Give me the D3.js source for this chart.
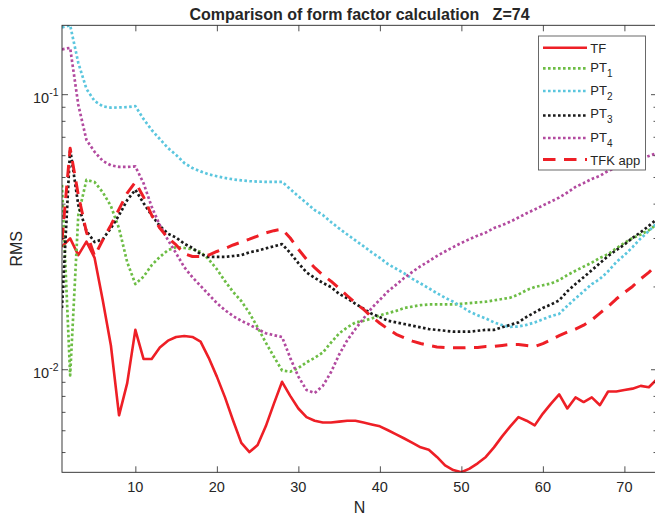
<!DOCTYPE html>
<html>
<head>
<meta charset="utf-8">
<script src="https://cdn.jsdelivr.net/npm/d3@7"></script>
<style>
  body { margin: 0; background: #fff; }
  text { font-family: "Liberation Sans", Arial, Helvetica, sans-serif; fill: #262626; }
</style>
</head>
<body>
<svg id="chart" width="655" height="518"></svg>
<script>
// Number of terms N
const N = d3.range(1, 75);

// RMS error of each form-factor approximation, Z = 74
const TF = [0.0279,0.0299,0.0260,0.0291,0.0254,0.0178,0.0122,0.0068,0.0089,0.0139,
  0.0109,0.0109,0.0120,0.0127,0.0131,0.0132,0.0131,0.0126,0.0110,0.0094,
  0.0079,0.0065,0.0054,0.0050,0.0053,0.0062,0.0075,0.0090,0.0080,0.0072,
  0.0067,0.0065,0.0064,0.0064,0.00645,0.0065,0.0065,0.0064,0.0063,0.0062,
  0.0060,0.0058,0.0056,0.0054,0.0052,0.0051,0.0048,0.00447,0.0043,0.00422,
  0.00435,0.00455,0.0048,0.0052,0.0057,0.0062,0.0067,0.0065,0.00625,0.0069,
  0.0075,0.0081,0.0072,0.0079,0.0076,0.0079,0.0074,0.0083,0.0083,0.0084,
  0.0085,0.0087,0.0086,0.0092];

const PT1 = [0.0468,0.0095,0.0363,0.0488,0.0479,0.0440,0.0392,0.0325,0.0245,0.0204,
  0.0217,0.0239,0.0256,0.0271,0.0278,0.0276,0.0273,0.0267,0.0251,0.0231,
  0.0209,0.0191,0.0177,0.0160,0.0142,0.0125,0.0111,0.0099,0.0098,0.0101,
  0.0106,0.0110,0.0115,0.0125,0.0135,0.0142,0.0148,0.0150,0.0153,0.0157,
  0.0160,0.0163,0.0167,0.0169,0.0171,0.0172,0.0172,0.0172,0.0172,0.0173,
  0.0174,0.0175,0.0176,0.0178,0.0180,0.0182,0.0187,0.0194,0.0199,0.0202,
  0.0205,0.0211,0.0220,0.0228,0.0236,0.0244,0.0254,0.0262,0.0275,0.0288,
  0.0300,0.0309,0.0320,0.0337];

const PT2 = [0.175,0.178,0.130,0.1045,0.0944,0.0903,0.0893,0.0895,0.0897,0.0905,
  0.0813,0.0741,0.0687,0.0637,0.0601,0.0562,0.0539,0.0524,0.0511,0.0503,
  0.0496,0.0490,0.0486,0.0483,0.0481,0.0480,0.0480,0.0480,0.0452,0.0425,
  0.0402,0.0379,0.0364,0.0343,0.0325,0.0309,0.0294,0.0280,0.0266,0.0254,
  0.0241,0.0232,0.0223,0.0213,0.0205,0.0197,0.0189,0.0182,0.0176,0.0169,
  0.0162,0.0157,0.0153,0.0148,0.01446,0.01426,0.0143,0.0145,0.0148,0.0152,
  0.0156,0.0159,0.0170,0.0181,0.0192,0.0204,0.0213,0.0227,0.0245,0.0260,
  0.0278,0.0299,0.0318,0.0340];

const PT3 = [0.0167,0.0632,0.0395,0.0318,0.0290,0.0297,0.0326,0.0363,0.0412,0.0449,
  0.0402,0.0363,0.0332,0.0311,0.0301,0.0286,0.0276,0.0262,0.0256,0.0256,
  0.0256,0.0258,0.0260,0.0266,0.0270,0.0275,0.0280,0.0285,0.0265,0.0243,
  0.0225,0.0215,0.0206,0.0199,0.0188,0.0181,0.0173,0.0166,0.0159,0.01547,
  0.0150,0.0148,0.0146,0.0144,0.0142,0.0140,0.0139,0.0138,0.0137,0.0137,
  0.0137,0.0138,0.0139,0.0139,0.0142,0.0145,0.0148,0.0155,0.0161,0.0167,
  0.0172,0.0178,0.0192,0.0204,0.0216,0.0229,0.0243,0.0258,0.0271,0.0284,
  0.0300,0.0315,0.0332,0.0352];

const PT4 = [0.1455,0.1474,0.0915,0.0682,0.0617,0.0572,0.0551,0.0544,0.0544,0.0546,
  0.0475,0.0390,0.0334,0.0295,0.0264,0.0235,0.0216,0.0201,0.0187,0.0174,
  0.0164,0.0156,0.0150,0.01452,0.0140,0.01352,0.0133,0.0131,0.0110,0.0094,
  0.0084,0.0082,0.0087,0.00975,0.0113,0.01275,0.0140,0.0153,0.0167,0.0179,
  0.0192,0.0203,0.0215,0.0226,0.0237,0.0247,0.0258,0.0268,0.0278,0.0288,
  0.0297,0.0306,0.0314,0.0326,0.0334,0.0344,0.0356,0.0369,0.0381,0.0394,
  0.0407,0.0421,0.0439,0.0460,0.0475,0.0492,0.0505,0.0526,0.0539,0.0553,
  0.0567,0.0581,0.0596,0.0611];

const TFK = [0.0295,0.0636,0.0430,0.0315,0.0258,0.0295,0.0334,0.0382,0.0437,0.0479,
  0.0423,0.0363,0.0326,0.0300,0.0283,0.0263,0.0257,0.0257,0.0260,0.0268,
  0.0275,0.0283,0.0290,0.0297,0.0305,0.0313,0.0319,0.0323,0.0300,0.0273,
  0.0251,0.0234,0.0220,0.0209,0.0197,0.0185,0.0174,0.0165,0.0155,0.0147,
  0.0140,0.0134,0.0130,0.01265,0.0124,0.0122,0.01205,0.0120,0.01198,0.01196,
  0.0120,0.0120,0.0121,0.0121,0.0122,0.0123,0.0123,0.0122,0.0121,0.0124,
  0.0128,0.01324,0.01364,0.0140,0.01446,0.0151,0.0160,0.0169,0.0180,0.0190,
  0.0200,0.0213,0.0225,0.0240];

const seriesNames = ["TF", "PT1", "PT2", "PT3", "PT4", "TFK app"];
const xTickValues = [10, 20, 30, 40, 50, 60, 70];
const yMajorTicks = [0.01, 0.1];
const yMinorTicks = [0.005, 0.006, 0.007, 0.008, 0.009,
  0.02, 0.03, 0.04, 0.05, 0.06, 0.07, 0.08, 0.09];

// Line styles for each series
const styles = [
  { data: TF,  color: "#ee1f26", width: 2.6, dash: null },
  { data: PT1, color: "#6dbd45", width: 2.7, dash: "2.6 2.4" },
  { data: PT2, color: "#5bc6de", width: 2.7, dash: "2.6 2.4" },
  { data: PT3, color: "#1a1a1a", width: 2.7, dash: "2.6 2.4" },
  { data: PT4, color: "#b24a9f", width: 2.7, dash: "2.6 2.4" },
  { data: TFK, color: "#ee1f26", width: 3,   dash: "12.5 8.5" }
];

const svg = d3.select("#chart");
const L = 62, R = 657, T = 25.3, B = 472.3;

const x = d3.scaleLinear().domain([1, 74]).range([L, R]);
const allVals = [].concat(TF, PT1, PT2, PT3, PT4, TFK);
const y = d3.scaleLog().domain(d3.extent(allVals)).range([B, T]);

svg.append("defs").append("clipPath").attr("id", "plotClip")
  .append("rect").attr("x", L).attr("y", T).attr("width", R - L).attr("height", B - T);

// Series lines
const line = d3.line().x((d, i) => x(N[i])).y(d => y(d));
const plot = svg.append("g").attr("clip-path", "url(#plotClip)");
styles.forEach(s => {
  plot.append("path")
    .attr("d", line(s.data))
    .attr("fill", "none")
    .attr("stroke", s.color)
    .attr("stroke-width", s.width)
    .attr("stroke-linejoin", "round")
    .attr("stroke-dasharray", s.dash);
});

// Axes: ticks point inward on all four sides
const axisColor = "#262626";
function styleAxis(g) {
  g.select(".domain").remove();
  g.selectAll(".tick line").attr("stroke", axisColor).attr("stroke-width", 0.8);
  g.selectAll(".tick text").remove();
}
svg.append("g").attr("transform", `translate(0,${B})`)
  .call(d3.axisBottom(x).tickValues(xTickValues).tickSize(-6)).call(styleAxis);
svg.append("g").attr("transform", `translate(0,${T})`)
  .call(d3.axisTop(x).tickValues(xTickValues).tickSize(-6)).call(styleAxis);
svg.append("g").attr("transform", `translate(${L},0)`)
  .call(d3.axisLeft(y).tickValues(yMajorTicks).tickSize(-6)).call(styleAxis);
svg.append("g").attr("transform", `translate(${L},0)`)
  .call(d3.axisLeft(y).tickValues(yMinorTicks).tickSize(-3.5)).call(styleAxis);
svg.append("g").attr("transform", `translate(${R},0)`)
  .call(d3.axisRight(y).tickValues(yMajorTicks).tickSize(-6)).call(styleAxis);
svg.append("g").attr("transform", `translate(${R},0)`)
  .call(d3.axisRight(y).tickValues(yMinorTicks).tickSize(-3.5)).call(styleAxis);

// Box
svg.append("rect").attr("x", L).attr("y", T).attr("width", R - L).attr("height", B - T)
  .attr("fill", "none").attr("stroke", axisColor).attr("stroke-width", 0.9);

// X tick labels
svg.append("g").selectAll("text").data(xTickValues).join("text")
  .attr("x", d => x(d)).attr("y", B + 20)
  .attr("text-anchor", "middle").attr("font-size", 14.5)
  .text(d => d);

// Y tick labels as powers of ten
const yl = svg.append("g").selectAll("text").data(yMajorTicks).join("text")
  .attr("x", 58.5).attr("y", d => y(d) + 9)
  .attr("text-anchor", "end").attr("font-size", 14.5);
yl.append("tspan").text("10");
yl.append("tspan").attr("font-size", 10.5).attr("dy", -6.8)
  .text(d => String(Math.round(Math.log10(d))));

// Axis labels
svg.append("text").attr("x", (L + R) / 2).attr("y", 513)
  .attr("text-anchor", "middle").attr("font-size", 16).text("N");
svg.append("text").attr("transform", `translate(21.5,${(T + B) / 2}) rotate(-90)`)
  .attr("text-anchor", "middle").attr("font-size", 16).text("RMS");

// Title
svg.append("text").attr("x", (L + R) / 2).attr("y", 19.5)
  .attr("text-anchor", "middle").attr("font-size", 16).attr("font-weight", "bold")
  .style("white-space", "pre")
  .text("Comparison of form factor calculation   Z=74");

// Legend
const lg = svg.append("g");
lg.append("rect").attr("x", 538.5).attr("y", 36).attr("width", 107).attr("height", 134)
  .attr("fill", "#fff").attr("stroke", "#5a5a5a").attr("stroke-width", 0.9);
const rowLineY = [47.7, 68.4, 91, 115.5, 138, 159.5];
const rowTextY = [52.7, 71.7, 95, 118.3, 141.7, 165];
styles.forEach((s, i) => {
  lg.append("line").attr("x1", 543).attr("x2", 587)
    .attr("y1", rowLineY[i]).attr("y2", rowLineY[i])
    .attr("stroke", s.color).attr("stroke-width", s.width)
    .attr("stroke-dasharray", s.dash);
  const t = lg.append("text").attr("x", 590.3).attr("y", rowTextY[i]).attr("font-size", 13);
  const name = seriesNames[i];
  const m = name.match(/^PT(\d)$/);
  if (m) {
    t.append("tspan").text("PT");
    t.append("tspan").attr("font-size", 10).attr("dy", 5).text(m[1]);
  } else {
    t.text(name);
  }
});
</script>
</body>
</html>
